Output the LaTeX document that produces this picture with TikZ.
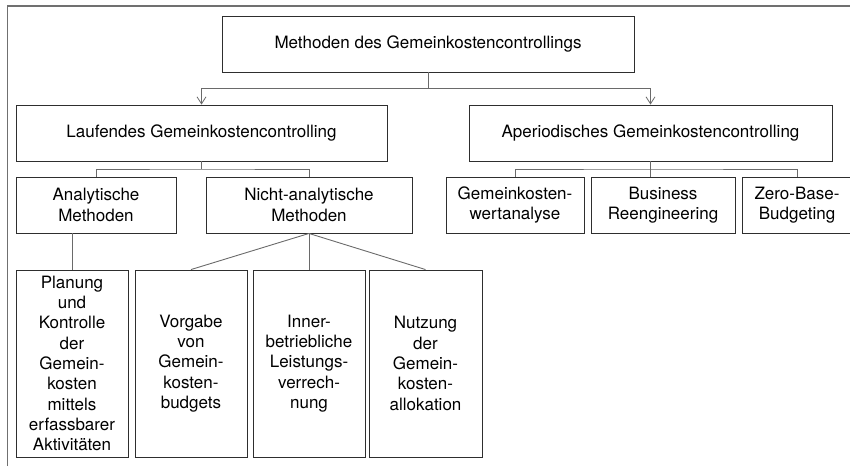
\documentclass[tikz,border=0pt]{standalone}
\usepackage{fontspec}
\setmainfont{TeX Gyre Heros}
\usetikzlibrary{arrows.meta}
\definecolor{boxc}{HTML}{2E2E2E}
\definecolor{linec}{HTML}{6A6A6A}
\definecolor{framec}{HTML}{707070}
\begin{document}
\begin{tikzpicture}[x=1pt,y=-1pt,
  box/.style={draw=boxc,line width=0.9pt,rectangle,inner sep=0pt,align=center,
    font=\fontsize{17}{20.3}\selectfont,text=black},
  conn/.style={draw=linec,line width=0.9pt},
  arr/.style={-{Straight Barb[length=7pt,width=9pt,line width=0.8pt]}}
]
\useasboundingbox (0,0) rectangle (850,466);
% outer frame (top and left only)
\draw[framec,line width=1.4pt] (7.5,466) -- (7.5,6) -- (851,6);

\node[box,minimum width=412pt,minimum height=56pt] (top) at (428,44) {Methoden des Gemeinkostencontrollings};
\node[box,minimum width=371pt,minimum height=56pt] (lauf) at (201.5,133) {Laufendes Gemeinkostencontrolling};
\node[box,minimum width=363pt,minimum height=56pt] (aper) at (650.5,133) {Aperiodisches Gemeinkostencontrolling};

\node[box,minimum width=160pt,minimum height=56pt] (anal) at (96,205) {Analytische\\Methoden};
\node[box,minimum width=206pt,minimum height=56pt] (nicht) at (309,205) {Nicht-analytische\\Methoden};

\node[box,minimum width=138pt,minimum height=56pt] (gwa) at (515,205) {Gemeinkosten-\\wertanalyse};
\node[box,minimum width=144pt,minimum height=56pt] (bus) at (663,205) {Business\\Reengineering};
\node[box,minimum width=110pt,minimum height=56pt] (zero) at (797,205) {Zero-Base-\\Budgeting};

\node[box,minimum width=112pt,minimum height=187pt] (b1) at (72,363.5) {Planung\\und\\Kontrolle\\der\\Gemein-\\kosten\\mittels\\erfassbarer\\Aktivitäten};
\node[box,minimum width=112pt,minimum height=187pt] (b2) at (191,363.5) {Vorgabe\\von\\Gemein-\\kosten-\\budgets};
\node[box,minimum width=112pt,minimum height=187pt] (b3) at (309,363.5) {Inner-\\betriebliche\\Leistungs-\\verrech-\\nung};
\node[box,minimum width=113pt,minimum height=187pt] (b4) at (425.5,363.5) {Nutzung\\der\\Gemein-\\kosten-\\allokation};

% junction points
\coordinate (j0) at (428,88);
\coordinate (j1) at (201.5,169);
\coordinate (j2) at (650.5,169);

% top level
\draw[conn] (top.south) -- (j0);
\draw[conn,arr] (j0) -| (lauf.north);
\draw[conn,arr] (j0) -| (aper.north);

% Laufendes
\draw[conn] (lauf.south) -- (j1);
\draw[conn] (anal.north) |- (j1) -| (nicht.north);

% Aperiodisches
\draw[conn] (aper.south) -- (aper.south |- bus.north);
\draw[conn] (gwa.north) |- (j2) -| (zero.north);

% Analytische
\draw[conn] (b1.north) -- (b1.north |- anal.south);

% Nicht-analytische fan
\draw[conn] (nicht.south) -- (b2.north);
\draw[conn] (nicht.south) -- (b3.north);
\draw[conn] (nicht.south) -- (b4.north);
\end{tikzpicture}
\end{document}
